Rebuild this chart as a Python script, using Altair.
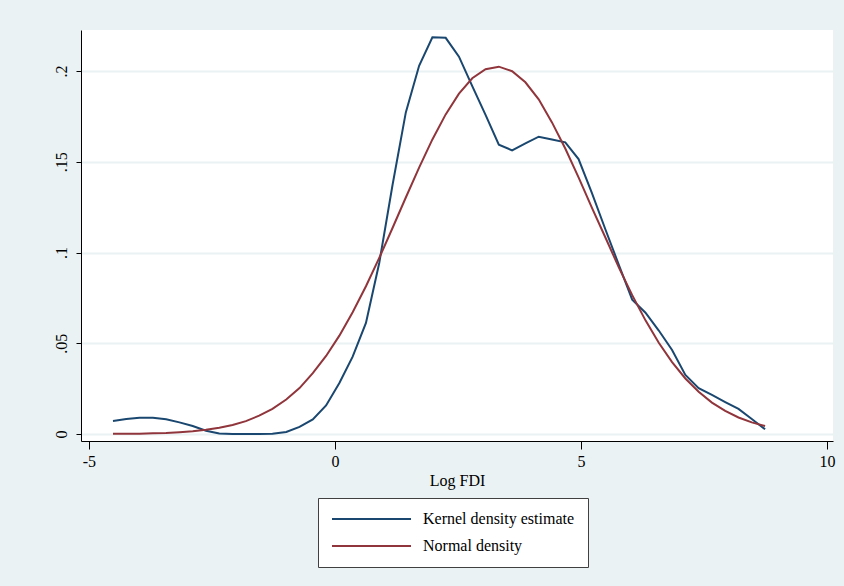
import altair as alt
import pandas as pd

# Log FDI grid (x positions of the density estimates)
log_fdi = [-4.51, -4.24, -3.97, -3.70, -3.43, -3.16, -2.89, -2.62, -2.35, -2.08,
           -1.81, -1.54, -1.27, -0.99, -0.72, -0.45, -0.18, 0.09, 0.36, 0.63,
           0.90, 1.17, 1.44, 1.71, 1.98, 2.25, 2.52, 2.79, 3.06, 3.33,
           3.60, 3.87, 4.14, 4.41, 4.68, 4.95, 5.22, 5.50, 5.77, 6.04,
           6.31, 6.58, 6.85, 7.12, 7.39, 7.66, 7.93, 8.20, 8.47, 8.74]

kernel_density = [0.0072, 0.0083, 0.0089, 0.0089, 0.0081, 0.0064, 0.0044, 0.0018, 0.0003, 0.0000,
                  0.0000, 0.0000, 0.0002, 0.0011, 0.0039, 0.0080, 0.0157, 0.0281, 0.0426, 0.0612,
                  0.0942, 0.1372, 0.1772, 0.2029, 0.2186, 0.2183, 0.2079, 0.1917, 0.1758, 0.1594,
                  0.1563, 0.1601, 0.1638, 0.1623, 0.1607, 0.1515, 0.1328, 0.1124, 0.0931, 0.0740,
                  0.0668, 0.0570, 0.0463, 0.0325, 0.0252, 0.0215, 0.0176, 0.0138, 0.0083, 0.0026]

normal_density = [0.0001, 0.0001, 0.0002, 0.0004, 0.0006, 0.0010, 0.0015, 0.0023, 0.0034, 0.0050,
                  0.0071, 0.0101, 0.0139, 0.0190, 0.0253, 0.0335, 0.0430, 0.0542, 0.0671, 0.0814,
                  0.0970, 0.1135, 0.1303, 0.1468, 0.1623, 0.1761, 0.1875, 0.1960, 0.2010, 0.2024,
                  0.1999, 0.1938, 0.1844, 0.1717, 0.1573, 0.1414, 0.1247, 0.1080, 0.0917, 0.0765,
                  0.0626, 0.0503, 0.0396, 0.0306, 0.0233, 0.0173, 0.0127, 0.0091, 0.0064, 0.0044]

series_names = ["Kernel density estimate", "Normal density"]
series_colors = ["#1a476f", "#90353b"]
x_ticks = [-5, 0, 5, 10]
y_ticks = [0, 0.05, 0.1, 0.15, 0.2]

rows = []
for name, vals in zip(series_names, [kernel_density, normal_density]):
    for i, (xv, yv) in enumerate(zip(log_fdi, vals)):
        rows.append({"x": xv, "density": yv, "series": name, "order": i})
df = pd.DataFrame(rows)

FONT = "Liberation Serif"

chart = alt.Chart(df).mark_line(strokeWidth=2).encode(
    x=alt.X("x:Q",
            scale=alt.Scale(domain=[-5.16, 10.12], nice=False, zero=False),
            axis=alt.Axis(values=x_ticks, title="Log FDI", grid=False,
                          tickSize=8, tickColor="#000000", domainColor="#000000",
                          labelExpr="'' + datum.value", labelFlush=False,
                          labelOverlap=False,
                          labelFont=FONT, labelFontSize=16, labelColor="#000000",
                          labelPadding=4, titleFont=FONT, titleFontSize=16,
                          titleFontWeight="normal", titleColor="#000000",
                          titlePadding=3)),
    y=alt.Y("density:Q",
            scale=alt.Scale(domain=[-0.00386, 0.2226], nice=False, zero=False),
            axis=alt.Axis(values=y_ticks, title=None, grid=True,
                          gridColor="#eaf2f3", gridWidth=2,
                          tickSize=5, tickColor="#000000", domainColor="#000000",
                          labelAngle=270, labelOverlap=False,
                          labelExpr="datum.value == 0 ? '0' : slice(format(datum.value, '.2~f'), 1)",
                          labelFont=FONT, labelFontSize=16, labelColor="#000000",
                          labelPadding=7)),
    color=alt.Color("series:N",
                    scale=alt.Scale(domain=series_names, range=series_colors),
                    legend=alt.Legend(orient="none", legendX=237, legendY=468,
                                      direction="vertical", title=None,
                                      symbolType="stroke", symbolSize=6241,
                                      symbolStrokeWidth=2,
                                      labelFont=FONT, labelFontSize=16,
                                      labelColor="#000000", labelOffset=11,
                                      clipHeight=16, rowPadding=11, padding=13,
                                      fillColor="white", strokeColor="#404040")),
    order="order:Q",
).properties(
    width=752,
    height=411,
    background="#eaf2f3",
    padding={"left": 81, "top": 30, "right": 11, "bottom": 145},
    autosize=alt.AutoSizeParams(type="none"),
).configure_view(fill="white", stroke=None)

chart.save("out.html", embed_options={"renderer": "svg", "actions": False})
